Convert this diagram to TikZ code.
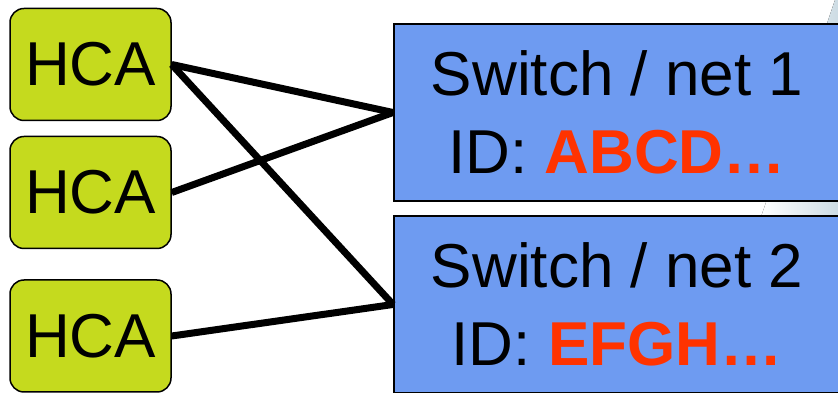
\documentclass[tikz,border=0pt]{standalone}
\usepackage{fontspec}
\setmainfont{Liberation Sans}
\definecolor{hcagreen}{RGB}{197,218,30}
\definecolor{swblue}{RGB}{110,155,241}
\definecolor{idred}{RGB}{255,51,0}
\definecolor{swoosh}{RGB}{205,220,228}
\begin{document}
\begin{tikzpicture}[x=1pt,y=1pt]
\tikzstyle{every node}=[draw,font=\fontsize{62}{78}\selectfont]
\tikzstyle{hca}=[rounded corners=14pt,line width=1.5pt,fill=hcagreen,minimum width=161pt,minimum height=112pt,inner sep=0pt]
\tikzstyle{sw}=[rectangle,line width=2pt,fill=swblue,minimum width=446pt,minimum height=177pt,align=center,inner sep=0pt]
\useasboundingbox (0,0) rectangle (838,393);
\fill[left color=white,right color=swoosh] (760,173) -- (835,393) -- (838,393) -- (838,173) -- cycle;
\node[hca](h1) at (90.5,328.5) {HCA};
\node[hca](h2) at (90.5,200.5) {HCA};
\node[hca](h3) at (90.5,57) {HCA};
\node[sw](s1) at (617,280.5) {Switch / net 1\\ID: \textcolor{idred}{\bfseries ABCD…}};
\node[sw](s2) at (617,88.5) {Switch / net 2\\ID: \textcolor{idred}{\bfseries EFGH…}};
\draw[line width=7pt] (h1.east) -- (s1.west);
\draw[line width=7pt] (h1.east) -- (s2.west);
\draw[line width=7pt] (h2.east) -- (s1.west);
\draw[line width=7pt] (h3.east) -- (s2.west);
\end{tikzpicture}
\end{document}
